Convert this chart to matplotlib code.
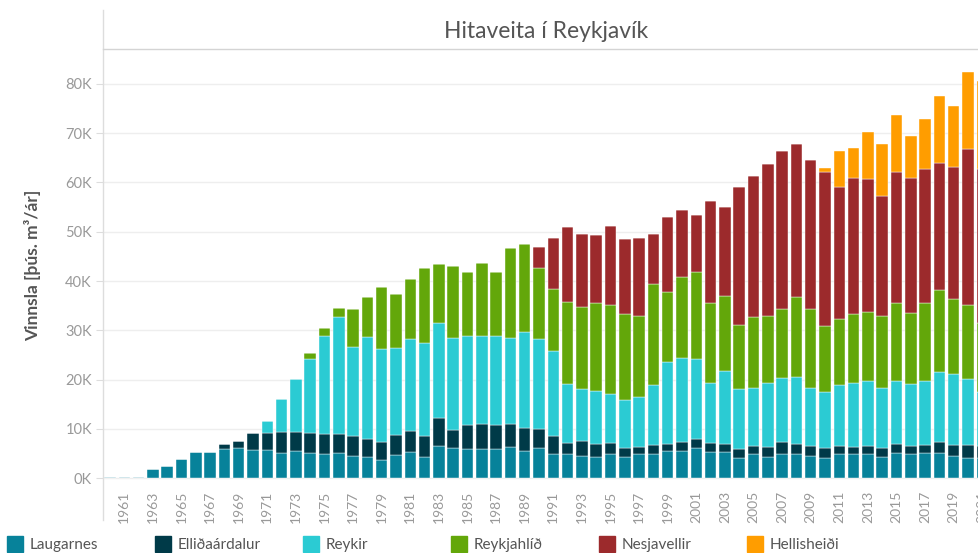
import numpy as np
import matplotlib
matplotlib.use("Agg")
import matplotlib.pyplot as plt
from matplotlib.patches import Rectangle
from matplotlib.lines import Line2D

plt.rcParams['font.family'] = ['Lato', 'DejaVu Sans']

years = list(range(1960, 2022))

# production per plant, thousand m3 / year
laugarnes = [0.2, 0.2, 0.2, 1.9, 2.4, 3.85, 5.2, 5.2, 5.95, 6.15,
             5.6, 5.6, 5.1, 5.5, 5.1, 4.8, 5.0, 4.45, 4.25, 3.7,
             4.7, 5.25, 4.25, 6.5, 6.0, 5.8, 5.8, 5.8, 6.3, 5.5,
             6.0, 4.8, 4.8, 4.5, 4.3, 4.8, 4.3, 4.8, 4.8, 5.5,
             5.5, 6.0, 5.3, 5.3, 4.0, 4.8, 4.3, 4.8, 4.8, 4.5,
             4.05, 4.8, 4.8, 4.8, 4.3, 5.0, 4.8, 5.0, 5.0, 4.5,
             4.05, 4.0]
ellidaardalur = [0, 0, 0, 0, 0, 0, 0, 0, 0.95, 1.45,
                 3.6, 3.6, 4.2, 3.8, 4.1, 4.2, 4.0, 4.05, 3.75, 3.7,
                 4.0, 4.25, 4.25, 5.7, 3.7, 4.9, 5.1, 4.9, 4.6, 4.7,
                 4.0, 3.7, 2.4, 3.0, 2.7, 2.4, 1.7, 1.5, 1.9, 1.5,
                 1.8, 1.85, 1.9, 1.7, 1.8, 1.75, 1.9, 2.5, 2.2, 2.05,
                 1.95, 1.75, 1.4, 1.75, 1.8, 2.0, 1.75, 1.75, 2.3, 2.25,
                 2.7, 2.5]
reykir = [0, 0, 0, 0, 0, 0, 0, 0, 0, 0,
          0, 2.4, 6.8, 10.8, 15.0, 19.9, 23.7, 18.2, 20.6, 18.7,
          17.8, 18.7, 18.9, 19.2, 18.7, 18.2, 18.0, 18.2, 17.5, 19.4,
          18.2, 17.3, 11.8, 10.6, 10.7, 9.85, 9.8, 10.2, 12.1, 16.6,
          17.0, 16.25, 12.15, 14.8, 12.3, 11.75, 13.1, 13.0, 13.5, 11.75,
          11.4, 12.3, 13.1, 13.25, 12.2, 12.8, 12.5, 13.05, 14.25, 14.35,
          13.35, 11.0]
reykjahlid = [0, 0, 0, 0, 0, 0, 0, 0, 0, 0,
              0, 0, 0, 0, 1.2, 1.5, 1.9, 7.7, 8.1, 12.6,
              10.9, 12.2, 15.2, 12.0, 14.7, 13.0, 14.7, 13.0, 18.2, 18.0,
              14.5, 12.5, 16.8, 16.7, 17.8, 18.05, 17.5, 16.4, 20.6, 14.15,
              16.5, 17.7, 16.15, 15.2, 12.95, 14.45, 13.6, 14.0, 16.3, 16.0,
              13.4, 13.35, 14.0, 14.0, 14.5, 15.7, 14.45, 15.7, 16.65, 15.25,
              15.0, 14.0]
nesjavellir = [0] * 30 + [
    4.2, 10.5, 15.1, 14.8, 13.8, 16.0, 15.2, 15.9, 10.2, 15.25,
    13.7, 11.7, 20.8, 18.1, 27.95, 28.55, 30.8, 32.0, 31.0, 30.2,
    31.4, 26.8, 27.7, 26.9, 24.4, 26.7, 27.5, 27.3, 25.8, 26.85,
    31.7, 31.2]
hellisheidi = [0] * 50 + [
    0.8, 7.3, 6.0, 9.6, 10.6, 11.6, 8.5, 10.0, 13.6, 12.3,
    15.7, 17.9]

series = ['Laugarnes', 'Elliðaárdalur', 'Reykir', 'Reykjahlíð', 'Nesjavellir', 'Hellisheiði']
values = [laugarnes, ellidaardalur, reykir, reykjahlid, nesjavellir, hellisheidi]
colors = ['#07829a', '#003a48', '#2bcbd3', '#63a70a', '#9c2a2c', '#ff9d00']

W, H = 979, 553
fig = plt.figure(figsize=(W / 100, H / 100), dpi=100)

# axes: left edge at x=103, baseline near y=480, top at y=50; runs past the right edge
px_per_year = 14.3
x0 = 1959.51
x1 = 2021.6
ax_w = (x1 - x0) * px_per_year
ax = fig.add_axes([103 / W, 1 - 480 / H, ax_w / W, 430 / H])

bottom = np.zeros(len(years))
for name, vals, c in zip(series, values, colors):
    vals = np.array(vals, dtype=float)
    ax.bar(years, vals, bottom=bottom, width=0.8, color=c,
           edgecolor='white', linewidth=0.3, label=name, zorder=3)
    bottom += vals

ax.set_xlim(x0, x1)
ax.set_ylim(-0.4, 86.9)

yt = list(range(0, 90, 10))
ax.set_yticks(yt)
ax.set_yticklabels([f'{v}K' for v in yt], fontsize=10.5, color='#999999')
ax.tick_params(axis='y', length=5, color='#dddddd', pad=3)
ax.grid(axis='y', color='#eeeeee', linewidth=1, zorder=0)

xt = list(range(1961, 2022, 2))
ax.set_xticks(xt)
ax.set_xticklabels([str(y) for y in xt], rotation=90, fontsize=10, color='#999999')
ax.tick_params(axis='x', length=0, pad=8)

for s in ax.spines.values():
    s.set_visible(False)

ax.set_ylabel('Vinnsla [þús. m³/ár]', fontsize=12.5, fontweight='bold', color='#555555', labelpad=17)

# frame lines of the title area
fig.add_artist(Line2D([103 / W, 103 / W], [1 - 10 / H, 1 - 520 / H], color='#dddddd', linewidth=1))
fig.add_artist(Line2D([103 / W, 1.0], [1 - 49 / H, 1 - 49 / H], color='#d4d4d4', linewidth=1))
fig.text(546 / W, 1 - 32 / H, 'Hitaveita í Reykjavík', fontsize=16.5, color='#555555',
         ha='center', va='center')

# legend along the bottom
for i, (name, c) in enumerate(zip(series, colors)):
    lx = 7 + i * 148
    fig.add_artist(Rectangle((lx / W, 1 - 553 / H + 1 / H), 16 / W, 16 / H, color=c,
                             transform=fig.transFigure))
    fig.text((lx + 23) / W, 1 - 545 / H, name, fontsize=11, color='#555555',
             ha='left', va='center')

fig.savefig('out.png', dpi=100)
